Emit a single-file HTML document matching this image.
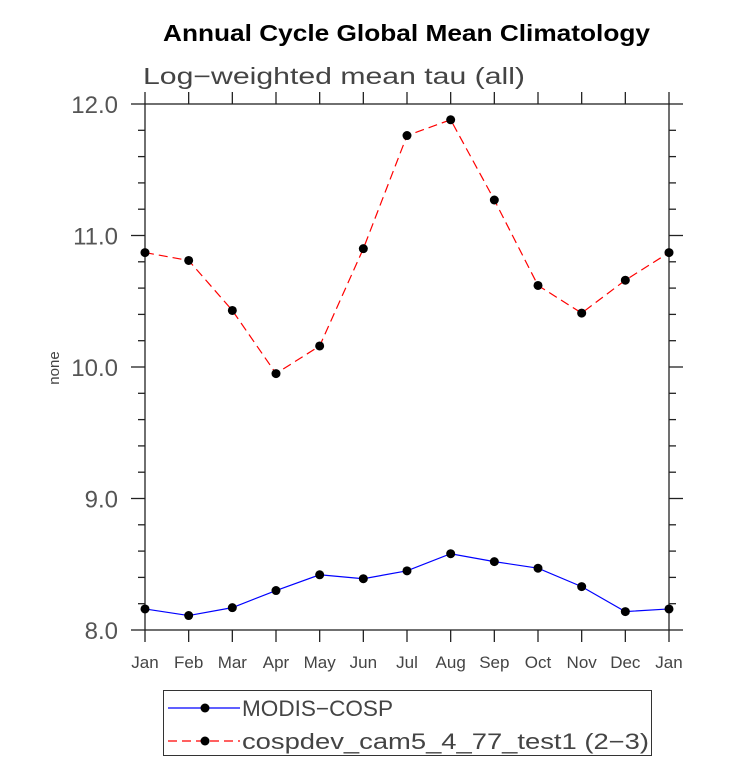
<!DOCTYPE html>
<html><head><meta charset="utf-8"><style>body{margin:0;background:#fff}svg{display:block}</style></head>
<body>
<svg id="chart" width="733" height="766" xmlns="http://www.w3.org/2000/svg" font-family="Liberation Sans, sans-serif">
<text x="163" y="41" textLength="487" lengthAdjust="spacingAndGlyphs" font-size="23" font-weight="bold">Annual Cycle Global Mean Climatology</text>
<text x="143" y="84" textLength="382" lengthAdjust="spacingAndGlyphs" font-size="23" fill="#444">Log−weighted mean tau (all)</text>
<text transform="translate(59,368) rotate(-90)" text-anchor="middle" font-size="15" fill="#444">none</text>
<g id="axes"></g>
<g id="series"></g>
<g>
<rect x="163.5" y="690.5" width="488" height="65" fill="none" stroke="#333"/>
<line x1="168" y1="708" x2="240" y2="708" stroke="#00f" stroke-width="1.2"/>
<circle cx="205" cy="708" r="4.5"/>
<text x="242" y="716" textLength="151" lengthAdjust="spacingAndGlyphs" font-size="22" fill="#444">MODIS−COSP</text>
<line x1="168" y1="741" x2="240" y2="741" stroke="#f00" stroke-width="1.2" stroke-dasharray="9,5"/>
<circle cx="205" cy="741" r="4.5"/>
<text x="242" y="749" textLength="407" lengthAdjust="spacingAndGlyphs" font-size="22" fill="#444">cospdev_cam5_4_77_test1 (2−3)</text>
</g>
</svg>
<script>
const months = ["Jan","Feb","Mar","Apr","May","Jun","Jul","Aug","Sep","Oct","Nov","Dec","Jan"];
const modis = [8.16,8.11,8.17,8.30,8.42,8.39,8.45,8.58,8.52,8.47,8.33,8.14,8.16];
const cospdev = [10.87,10.81,10.43,9.95,10.16,10.90,11.76,11.88,11.27,10.62,10.41,10.66,10.87];
const yTicks = [8,9,10,11,12];
const yTickLabels = ["8.0","9.0","10.0","11.0","12.0"];

const L=145,R=669,T=104,B=630,ymin=8,ymax=12;
const xs=i=>L+(R-L)*i/(months.length-1);
const ys=v=>B-(B-T)*(v-ymin)/(ymax-ymin);
const NS="http://www.w3.org/2000/svg";
function mk(tag,attrs,parent){const e=document.createElementNS(NS,tag);for(const k in attrs)e.setAttribute(k,attrs[k]);parent.appendChild(e);return e;}
const ax=document.getElementById('axes'), sr=document.getElementById('series');
const frame=mk('rect',{x:L,y:T,width:R-L,height:B-T,fill:'none',stroke:'#222','stroke-width':1.3},ax);


months.forEach((m,i)=>{
  const x=xs(i);
  mk('line',{x1:x,y1:B,x2:x,y2:B+12,stroke:'#222','stroke-width':1.3},ax);
  mk('line',{x1:x,y1:T,x2:x,y2:T-12,stroke:'#222','stroke-width':1.3},ax);
  const t=mk('text',{x:x,y:B+38,'text-anchor':'middle','font-size':17,fill:'#444'},ax);
  t.textContent=m;
  
  
});
for(let v=ymin;v<=ymax+1e-9;v+=0.2){
  const y=ys(v), major=Math.abs(v-Math.round(v))<1e-6, len=major?14:7;
  mk('line',{x1:L,y1:y,x2:L-len,y2:y,stroke:'#222','stroke-width':1.3},ax);
  mk('line',{x1:R,y1:y,x2:R+len,y2:y,stroke:'#222','stroke-width':1.3},ax);
}
yTicks.forEach((v,i)=>{
  const t=mk('text',{x:118,y:ys(v)+9,'text-anchor':'end','font-size':24,fill:'#555'},ax);
  t.textContent=yTickLabels[i];
  
  
});
function series(data,color,dash,name){
  const pl=mk('polyline',{points:data.map((v,i)=>xs(i)+','+ys(v)).join(' '),fill:'none',stroke:color,'stroke-width':1.2,'stroke-dasharray':dash},sr);
  
  
  data.forEach((v,i)=>{
    const c=mk('circle',{cx:xs(i),cy:ys(v),r:4.5,fill:'#000'},sr);
    
    
  });
}
series(cospdev,'#f00','9,5','cospdev');
series(modis,'#00f','none','modis');
</script>
</body></html>
